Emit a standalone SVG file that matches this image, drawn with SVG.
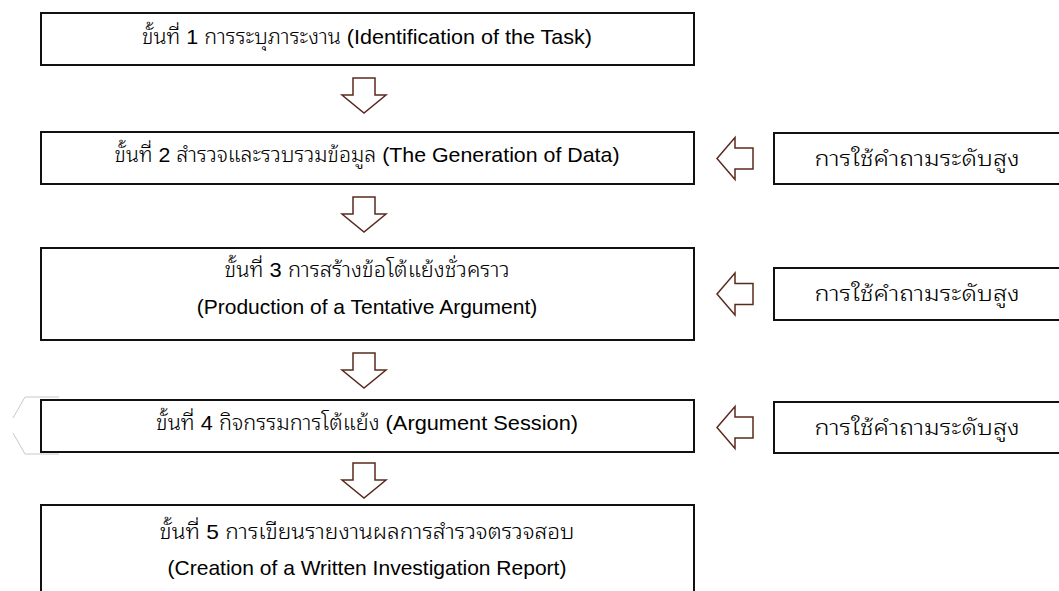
<svg xmlns="http://www.w3.org/2000/svg" width="1059" height="591" viewBox="0 0 1059 591">
<style>
.box{fill:#fff;stroke:#111;stroke-width:2}
.arr{fill:#fff;stroke:#5a2a1e;stroke-width:1.5;stroke-linejoin:miter}
.t{font-family:"Liberation Sans","Noto Sans Thai Looped","Loma","Garuda","Noto Sans Thai","Noto Sans",Tahoma,sans-serif;font-size:21px;font-weight:400;fill:#000;text-anchor:middle}
.th{font-weight:300}
.ghost{fill:none;stroke:#c8c8c8;stroke-width:1}
</style>
<rect width="1059" height="591" fill="#fff"/>
<polyline class="ghost" points="59,397 25,397 13,418"/>
<polyline class="ghost" points="13,433 25,454 59,454"/>
<g id="step1"><rect class="box" x="41" y="13" width="653" height="52"/><text class="t" x="367" y="44" textLength="450" lengthAdjust="spacingAndGlyphs"><tspan class="th">ขั้นที่ 1 การระบุภาระงาน </tspan>(Identification of the Task)</text></g>
<g id="step2"><rect class="box" x="41" y="132" width="653" height="52"/><text class="t" x="367" y="162" textLength="505" lengthAdjust="spacingAndGlyphs"><tspan class="th">ขั้นที่ 2 สำรวจและรวบรวมข้อมูล </tspan>(The Generation of Data)</text></g>
<g id="step3"><rect class="box" x="41" y="248" width="653" height="92"/><text class="t th" x="367" y="277" textLength="285" lengthAdjust="spacingAndGlyphs">ขั้นที่ 3 การสร้างข้อโต้แย้งชั่วคราว</text><text class="t" x="367" y="314">(Production of a Tentative Argument)</text></g>
<g id="step4"><rect class="box" x="41" y="400" width="653" height="52"/><text class="t" x="367" y="430" textLength="422" lengthAdjust="spacingAndGlyphs"><tspan class="th">ขั้นที่ 4 กิจกรรมการโต้แย้ง </tspan>(Argument Session)</text></g>
<g id="step5"><rect class="box" x="41" y="505" width="653" height="100"/><text class="t th" x="367" y="539" textLength="415" lengthAdjust="spacingAndGlyphs">ขั้นที่ 5 การเขียนรายงานผลการสำรวจตรวจสอบ</text><text class="t" x="367" y="575">(Creation of a Written Investigation Report)</text></g>
<g id="q1"><rect class="box" x="774" y="133" width="300" height="51"/><text class="t th" x="917" y="166" textLength="205" lengthAdjust="spacingAndGlyphs">การใช้คำถามระดับสูง</text></g>
<g id="q2"><rect class="box" x="774" y="268" width="300" height="52"/><text class="t th" x="917" y="301" textLength="205" lengthAdjust="spacingAndGlyphs">การใช้คำถามระดับสูง</text></g>
<g id="q3"><rect class="box" x="774" y="402" width="300" height="51"/><text class="t th" x="917" y="435" textLength="205" lengthAdjust="spacingAndGlyphs">การใช้คำถามระดับสูง</text></g>
<g id="connectors">
<path class="arr" d="M353,78 H375 V95 H386 L364,113 L342,95 H353 Z"/>
<path class="arr" d="M353,197 H375 V214 H386 L364,232 L342,214 H353 Z"/>
<path class="arr" d="M353,353 H375 V370 H386 L364,388 L342,370 H353 Z"/>
<path class="arr" d="M353,463 H375 V480 H386 L364,498 L342,480 H353 Z"/>
<path class="arr" d="M717,158.5 L735,137.5 V148 H753 V169 H735 V179.5 Z"/>
<path class="arr" d="M717,294 L735,273 V283.5 H753 V304.5 H735 V315 Z"/>
<path class="arr" d="M717,427.5 L735,406.5 V417 H753 V438 H735 V448.5 Z"/>
</g>
</svg>
